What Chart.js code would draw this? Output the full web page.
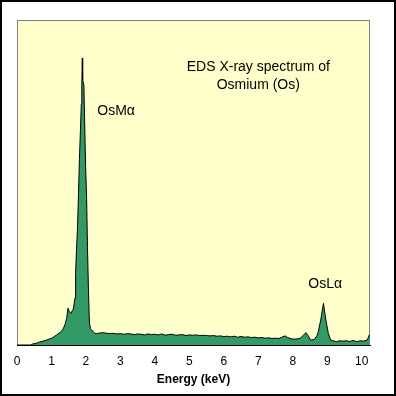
<!DOCTYPE html>
<html lang="en">
<head>
<meta charset="UTF-8">
<title>EDS X-ray spectrum of Osmium (Os)</title>
<script src="https://cdn.jsdelivr.net/npm/chart.js@4.4.0/dist/chart.umd.min.js"></script>
<style>
    html, body { margin: 0; padding: 0; background: #fff; }
</style>
</head>
<body>
<canvas id="spectrum" width="396" height="396"></canvas>
<script>
// energy (keV) and relative counts
const energy = [
    0.00, 0.40, 0.45, 0.55, 0.65, 0.76, 0.85, 0.95, 1.01, 1.08,
    1.15, 1.22, 1.30, 1.35, 1.39, 1.44, 1.48, 1.52, 1.56, 1.60,
    1.633, 1.683, 1.70, 1.725, 1.755, 1.785, 1.81, 1.84, 1.865, 1.88,
    1.895, 1.905, 1.94, 1.96, 1.99, 2.02, 2.045, 2.075, 2.10, 2.13,
    2.17, 2.22, 2.26, 2.30, 2.40, 2.50, 2.60, 2.70, 2.80, 2.90,
    3.00, 3.10, 3.20, 3.30, 3.40, 3.50, 3.60, 3.70, 3.80, 3.90,
    4.00, 4.10, 4.20, 4.30, 4.40, 4.50, 4.60, 4.70, 4.80, 4.90,
    5.00, 5.10, 5.20, 5.30, 5.40, 5.50, 5.60, 5.70, 5.80, 5.90,
    6.00, 6.10, 6.20, 6.30, 6.40, 6.50, 6.60, 6.70, 6.80, 6.90,
    7.00, 7.10, 7.20, 7.30, 7.40, 7.50, 7.60, 7.70, 7.78, 7.85,
    7.95, 8.05, 8.15, 8.21, 8.30, 8.38, 8.45, 8.52, 8.62, 8.70,
    8.74, 8.81, 8.89, 8.96, 9.03, 9.10, 9.20, 9.27, 9.35, 9.45,
    9.56, 9.65, 9.75, 9.86, 9.95, 10.05, 10.16, 10.22, 10.24
];
const counts = [
    0, 0, 0.3, 0.5, 0.9, 1.2, 1.5, 1.9, 2.1, 2.6,
    3.1, 3.6, 4.3, 5.2, 6.2, 8.2, 11.3, 10.2, 9.7, 10.5,
    11.0, 14.5, 22, 29, 36, 47, 57, 66, 74, 80,
    88.3, 81.5, 80, 70, 55, 45, 30, 16, 7, 5.0,
    4.6, 4.0, 3.6, 3.5, 3.7, 3.8, 3.6, 3.5, 3.6, 3.4,
    3.5, 3.3, 3.5, 3.4, 3.2, 3.4, 3.3, 3.1, 3.4, 3.2,
    3.3, 3.1, 3.4, 3.0, 3.2, 3.3, 3.0, 3.1, 3.2, 2.9,
    3.1, 3.0, 3.1, 2.9, 3.0, 2.9, 2.8, 2.9, 2.7, 2.8,
    2.6, 2.7, 2.5, 2.7, 2.4, 2.6, 2.4, 2.5, 2.3, 2.4,
    2.2, 2.3, 2.1, 2.2, 2.0, 2.1, 2.0, 2.5, 2.8, 2.3,
    1.9, 1.8, 1.9, 2.0, 2.9, 3.8, 2.8, 1.5, 1.7, 2.8,
    4.1, 7.7, 12.8, 7.7, 3.6, 1.5, 1.2, 1.0, 1.3, 1.2,
    1.3, 1.1, 1.4, 1.0, 1.3, 1.2, 1.5, 3.1, 3.1
];
const xTicks = [0, 1, 2, 3, 4, 5, 6, 7, 8, 9, 10];
const xTitle = 'Energy (keV)';
const titleLines = ['EDS X-ray spectrum of', 'Osmium (Os)'];
const peakNames = ['OsMα', 'OsLα'];

const FONT = '"Liberation Sans", Arial, sans-serif';

// yellow plot area, grey frame, black outer border
const backdrop = {
    id: 'backdrop',
    beforeDraw(chart) {
        const { ctx, chartArea: a, width, height } = chart;
        ctx.save();
        ctx.fillStyle = '#ffffff';
        ctx.fillRect(0, 0, width, height);
        ctx.strokeStyle = '#000000';
        ctx.lineWidth = 2;
        ctx.strokeRect(1, 1, width - 2, height - 2);
        ctx.fillStyle = '#ffffcc';
        ctx.fillRect(a.left, a.top, a.right - a.left, a.bottom - a.top);
        ctx.strokeStyle = '#808080';
        ctx.lineWidth = 1;
        ctx.strokeRect(a.left + 0.5, a.top + 0.5, a.right - a.left - 1, a.bottom - a.top);
        ctx.restore();
    }
};

// text written inside the plot
const labels = {
    id: 'labels',
    afterDatasetsDraw(chart) {
        const { ctx, scales: { x, y } } = chart;
        ctx.save();
        ctx.fillStyle = '#000000';
        ctx.font = '14px ' + FONT;
        ctx.textBaseline = 'middle';
        ctx.textAlign = 'center';
        ctx.fillText(titleLines[0], x.getPixelForValue(7.0), y.getPixelForValue(85.4));
        ctx.fillText(titleLines[1], x.getPixelForValue(7.0), y.getPixelForValue(80.0));
        ctx.textAlign = 'left';
        ctx.fillText(peakNames[0], x.getPixelForValue(2.33), y.getPixelForValue(72));
        ctx.textAlign = 'center';
        ctx.fillText(peakNames[1], x.getPixelForValue(8.94), y.getPixelForValue(18.8));
        ctx.restore();
    }
};

new Chart(document.getElementById('spectrum'), {
    type: 'line',
    data: {
        datasets: [{
            data: energy.map((e, i) => ({ x: e, y: counts[i] })),
            borderColor: '#000000',
            borderWidth: 1,
            backgroundColor: '#339966',
            fill: 'origin',
            pointRadius: 0,
            tension: 0
        }]
    },
    options: {
        responsive: false,
        animation: false,
        events: [],
        layout: { padding: { left: 17, right: 26, top: 20, bottom: 0 } },
        plugins: { legend: { display: false }, tooltip: { enabled: false } },
        scales: {
            x: {
                type: 'linear',
                min: 0,
                max: 10.24,
                afterBuildTicks: s => { s.ticks = xTicks.map(v => ({ value: v })); },
                afterFit: s => { s.height = 51; },
                grid: { display: false, drawTicks: false },
                border: { display: true, color: '#000000', width: 1 },
                ticks: {
                    color: '#000000',
                    font: { family: FONT, size: 12 },
                    padding: 9,
                    maxRotation: 0,
                    autoSkip: false
                },
                title: {
                    display: true,
                    text: xTitle,
                    color: '#000000',
                    font: { family: FONT, size: 12, weight: 'bold' },
                    padding: { top: 0, bottom: 9 }
                }
            },
            y: {
                display: false,
                min: 0,
                max: 100
            }
        }
    },
    plugins: [backdrop, labels]
});
</script>
</body>
</html>
